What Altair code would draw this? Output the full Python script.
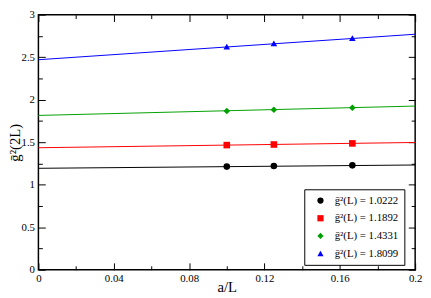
import altair as alt
import pandas as pd

# ---- data ----
a_over_L = [0.1, 0.125, 1 / 6]
series_labels = ["ḡ²(L) = 1.0222", "ḡ²(L) = 1.1892", "ḡ²(L) = 1.4331", "ḡ²(L) = 1.8099"]
series_colors = ["#000000", "#ff0000", "#00a000", "#0000ff"]
series_shapes = ["circle", "square", "diamond", "triangle-up"]
g_black = [1.213, 1.220, 1.228]
g_red = [1.466, 1.473, 1.486]
g_green = [1.868, 1.882, 1.905]
g_blue = [2.625, 2.662, 2.725]
fit_x = [0.0, 0.2]
fit_start = [1.193, 1.435, 1.815, 2.470]
fit_end = [1.232, 1.497, 1.925, 2.770]

x_major = [0, 0.04, 0.08, 0.12, 0.16, 0.2]
x_minor = [0.02, 0.06, 0.10, 0.14, 0.18]
y_major = [0, 0.5, 1, 1.5, 2, 2.5, 3]
y_minor = [0.25, 0.75, 1.25, 1.75, 2.25, 2.75]

# ---- tables ----
rows = []
for lab, vals in zip(series_labels, [g_black, g_red, g_green, g_blue]):
    for xv, yv in zip(a_over_L, vals):
        rows.append({"series": lab, "x": xv, "y": yv})
pts = pd.DataFrame(rows)

lrows = []
for lab, col, y0, y1 in zip(series_labels, series_colors, fit_start, fit_end):
    lrows.append({"series": lab, "col": col, "x": fit_x[0], "y": y0})
    lrows.append({"series": lab, "col": col, "x": fit_x[1], "y": y1})
lines = pd.DataFrame(lrows)

FONT = "Liberation Serif"
xs = alt.Scale(domain=[0, 0.2], nice=False, zero=False)
ys = alt.Scale(domain=[0, 3], nice=False, zero=False)
lab_expr = "format(datum.value, '~g')"


def tick_axis(orient, values, size):
    return alt.Axis(orient=orient, values=values, tickSize=size, offset=-size,
                    labels=False, domain=False, grid=False, title=None,
                    tickColor="black", tickWidth=1)


line_layer = alt.Chart(lines).mark_line(strokeWidth=1).encode(
    x=alt.X("x:Q", scale=xs, axis=alt.Axis(
        values=x_major, ticks=False, domain=False, grid=False, labelExpr=lab_expr,
        labelFlush=False, labelOverlap=False, labelPadding=3, title="a/L",
        labelFont=FONT, titleFont=FONT, labelFontSize=11, labelColor="black",
        titleColor="black", titleFontWeight="normal",
        titleFontSize=15, titleX=192, titleY=22, titleBaseline="alphabetic")),
    y=alt.Y("y:Q", scale=ys, axis=alt.Axis(
        values=y_major, ticks=False, domain=False, grid=False, labelExpr=lab_expr,
        labelFlush=False, labelOverlap=False, labelPadding=4, title="ḡ²(2L)",
        labelFont=FONT, titleFont=FONT, labelFontSize=11, labelColor="black",
        titleColor="black", titleFontWeight="normal",
        titleFontSize=15, titleX=-24, titleY=130, titleAngle=270,
        titleBaseline="middle", titleAlign="center")),
    detail="series:N",
    color=alt.Color("col:N", scale=None),
)

point_layer = alt.Chart(pts).mark_point(filled=True, size=45, opacity=1).encode(
    x=alt.X("x:Q", scale=xs, axis=tick_axis("bottom", x_major, 7)),
    y=alt.Y("y:Q", scale=ys, axis=tick_axis("left", y_major, 7)),
    color=alt.Color("series:N", scale=alt.Scale(domain=series_labels, range=series_colors),
                    sort=series_labels,
                    legend=alt.Legend(title=None, orient="none", legendX=271, legendY=178,
                                      strokeColor="black", fillColor="white", padding=6,
                                      labelFont=FONT, labelFontSize=11, labelOffset=9,
                                      labelColor="black",
                                      rowPadding=6, symbolSize=40, symbolStrokeWidth=0,
                                      symbolOffset=5)),
    shape=alt.Shape("series:N", scale=alt.Scale(domain=series_labels, range=series_shapes),
                    sort=series_labels, legend=None),
)

def dummy(xa, ya):
    return alt.Chart(pts).mark_point(opacity=0).encode(
        x=alt.X("x:Q", scale=xs, axis=xa),
        y=alt.Y("y:Q", scale=ys, axis=ya),
    )

d1 = dummy(tick_axis("bottom", x_minor, 4), tick_axis("left", y_minor, 4))
d2 = dummy(tick_axis("top", x_major, 7), tick_axis("right", y_major, 7))
d3 = dummy(tick_axis("top", x_minor, 4), tick_axis("right", y_minor, 4))

chart = alt.layer(line_layer, point_layer, d1, d2, d3).resolve_axis(
    x="independent", y="independent"
).properties(
    width=384, height=260,
    autosize=alt.AutoSizeParams(type="none"),
    padding={"left": 31, "top": 4, "right": 8, "bottom": 26},
).configure(font=FONT).configure_view(stroke="black", strokeWidth=1.5)

chart.save("out.html", embed_options={"renderer": "svg", "actions": False})
